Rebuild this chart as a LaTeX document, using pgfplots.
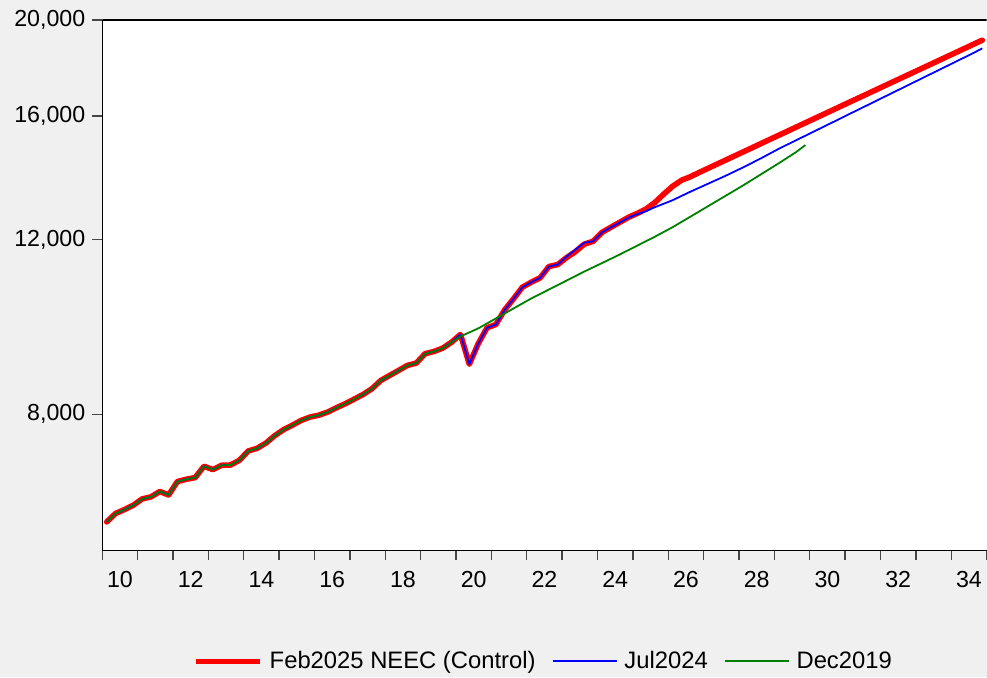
\documentclass[border=0pt]{standalone}
\usepackage{fontspec}
\setmainfont{Liberation Sans}
\usepackage{pgfplots}
\usepackage{pgfplotstable}
\pgfplotsset{compat=1.18}

\definecolor{bggray}{RGB}{240,240,240}
\definecolor{evgreen}{RGB}{0,128,0}
\definecolor{tickgray}{RGB}{70,70,70}

% quarterly series, x = mid-quarter in decimal years
\pgfplotstableread{
x        feb    jul    dec
2010.125 6230   6230   6230
2010.375 6353   6353   6353
2010.625 6411   6411   6411
2010.875 6476   6476   6476
2011.125 6572   6572   6572
2011.375 6603   6603   6603
2011.625 6686   6686   6686
2011.875 6633   6633   6633
2012.125 6843   6843   6843
2012.375 6879   6879   6879
2012.625 6906   6906   6906
2012.875 7090   7090   7090
2013.125 7035   7035   7035
2013.375 7106   7106   7106
2013.625 7111   7111   7111
2013.875 7189   7189   7189
2014.125 7346   7346   7346
2014.375 7392   7392   7392
2014.625 7483   7483   7483
2014.875 7613   7613   7613
2015.125 7720   7720   7720
2015.375 7801   7801   7801
2015.625 7888   7888   7888
2015.875 7949   7949   7949
2016.125 7985   7985   7985
2016.375 8042   8042   8042
2016.625 8124   8124   8124
2016.875 8200   8200   8200
2017.125 8288   8288   8288
2017.375 8378   8378   8378
2017.625 8491   8491   8491
2017.875 8655   8655   8655
2018.125 8756   8756   8756
2018.375 8858   8858   8858
2018.625 8962   8962   8962
2018.875 9010   9010   9010
2019.125 9209   9209   9209
2019.375 9257   9257   9257
2019.625 9329   9329   9329
2019.875 9460   9460   9460
2020.125 9630   9630   9586
2020.375 8987   8987   9676
2020.625 9424   9424   9766
2020.875 9781   9781   nan
2021.125 9856   9856   9994
2021.375 10198  10198  nan
2021.625 10463  10463  10230
2021.875 10748  10748  nan
2022.125 10873  10873  10470
2022.375 10984  10984  nan
2022.625 11276  11276  10690
2022.875 11329  11329  nan
2023.125 11514  11541  10915
2023.375 11675  11730  nan
2023.625 11880  11920  11146
2023.875 11957  11957  nan
2024.125 12209  12209  11367
2024.375 12352  12352  nan
2024.625 12496  12487  11595
2024.875 12643  12633  nan
2025.125 12760  12736  11839
2025.375 12891  12826  nan
2025.625 13090  12946  12088
2025.875 13347  13050  nan
2026.125 13591  13157  12358
2026.375 13781  nan    nan
2026.625 13893  13419  12662
2026.875 14033  nan    nan
2027.125 14168  13670  12975
2027.625 14443  13927  13294
2028.125 14723  14204  13623
2028.625 15009  14504  13975
2029.125 15300  14827  14337
2029.625 15597  15130  14723
2029.875 nan    nan    14955
2030.125 15900  15439  nan
2030.625 16208  15754  nan
2031.125 16523  16077  nan
2031.625 16843  16405  nan
2032.125 17170  16741  nan
2032.625 17503  17083  nan
2033.125 17842  17432  nan
2033.625 18188  17788  nan
2034.125 18541  18152  nan
2034.625 18901  18522  nan
2034.875 19083  18725  nan
}\gdpdata

\begin{document}
\begin{tikzpicture}
\path[use as bounding box, fill=bggray] (-51.15pt,-63.25pt) rectangle (442.35pt,275.25pt);
\begin{axis}[
    at={(0,0)}, anchor=south west,
    scale only axis,
    width=442.2pt, height=265.25pt,
    axis background/.style={fill=white},
    axis x line*=bottom,
    axis y line*=left,
    axis line style={black, line width=0.7pt, -},
    xmin=2010, xmax=2035,
    ymode=log,
    ymin=5830, ymax=20000,
    xtick={2010,...,2035},
    xticklabels={10,,12,,14,,16,,18,,20,,22,,24,,26,,28,,30,,32,,34,},
    xticklabel style={xshift=8.84pt, yshift=-2pt},
    ytick={8000,12000,16000,20000},
    yticklabels={{8,000},{12,000},{16,000},{20,000}},
    minor tick num=0,
    tick align=outside,
    major tick length=5pt,
    tick style={tickgray, line width=0.7pt},
    every tick label/.append style={font=\fontsize{11.6}{13}\selectfont, text=black},
    legend columns=3,
    legend style={
        at={(0.5,-0.209)}, anchor=center,
        draw=none, fill=none,
        font=\fontsize{11.9}{13}\selectfont,
        nodes={inner sep=2pt},
        /tikz/every odd column/.append style={column sep=1.5pt},
        /tikz/every even column/.append style={column sep=6pt},
    },
    legend image code/.code={\draw[#1, line cap=butt] (0pt,0pt) -- (32pt,0pt);},
]
\addplot[red, line width=2.8pt, line join=round, line cap=round] table[x=x, y=feb] {\gdpdata};
\addplot[blue, line width=0.9pt, line join=round] table[x=x, y=jul] {\gdpdata};
\addplot[evgreen, line width=0.9pt, line join=round] table[x=x, y=dec] {\gdpdata};
\draw[black, line width=0.7pt] (rel axis cs:0,1) -- (rel axis cs:1,1);
\legend{Feb2025 NEEC (Control), Jul2024, Dec2019}
\end{axis}
\end{tikzpicture}
\end{document}
